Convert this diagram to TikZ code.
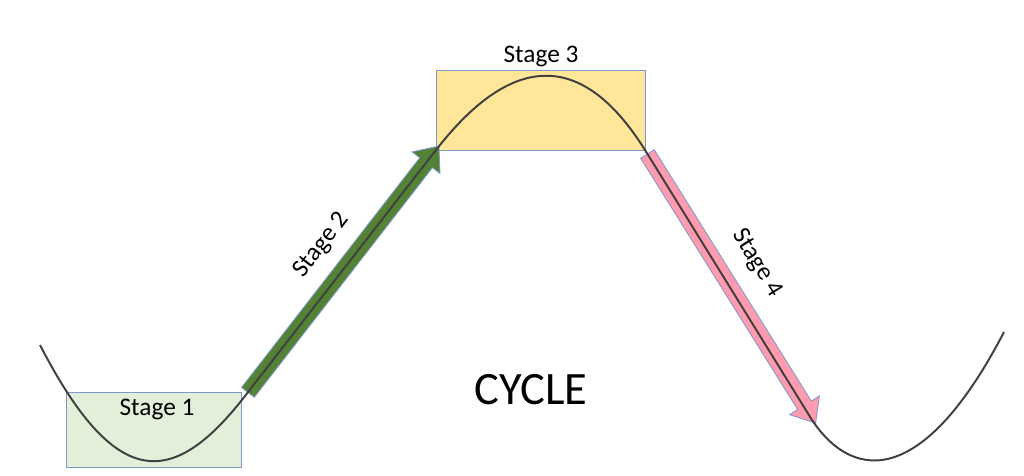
\documentclass[tikz,border=0pt]{standalone}
\usepackage{fontspec}
\setmainfont{Carlito}
\usetikzlibrary{shapes.arrows}

\definecolor{boxedge}{HTML}{7D98C9}
\definecolor{lightgreen}{HTML}{E2F0D9}
\definecolor{lightgold}{HTML}{FFE699}
\definecolor{darkgreen}{HTML}{548235}
\definecolor{lightpink}{HTML}{FF9BAE}
\definecolor{curvegray}{HTML}{404040}

\begin{document}
\begin{tikzpicture}[x=0.025cm, y=-0.025cm,
    stagebox/.style={draw=boxedge, line width=0.7pt, inner sep=0pt},
    stagearrow/.style={single arrow, draw=boxedge, line width=0.6pt, inner sep=0.19cm,
      single arrow head extend=0.24cm, single arrow tip angle=80},
    stagelabel/.style={font=\fontsize{18}{21}\selectfont},
    cycleline/.style={curvegray, line width=1.4pt}]
  \useasboundingbox (0,0) rectangle (1024,475);

  % stage boxes
  \node[stagebox, fill=lightgreen, minimum width=4.35cm, minimum height=1.875cm]
    (stageonebox) at (154,429.5) {};
  \node[stagebox, fill=lightgold, minimum width=5.2cm, minimum height=2cm]
    (stagethreebox) at (541,110) {};

  % block arrows
  \node[stagearrow, fill=darkgreen, minimum height=7.79cm, rotate=52.2]
    (risearrow) at (340.5,273) {};
  \node[stagearrow, fill=lightpink, minimum height=7.93cm, rotate=-58]
    (fallarrow) at (729,284.5) {};

  % the cycle curve
  \draw[cycleline] (40,345) .. controls (115,490) and (172,490) .. (245,396)
    -- (436,150) .. controls (513,51) and (583,51) .. (645,150)
    -- (812,420) .. controls (855,484) and (925,484) .. (1004,332);

  % labels
  \node[stagelabel] (stageone) at (157,409) {Stage 1};
  \node[stagelabel, rotate=52.2] (stagetwo) at (322,245) {Stage 2};
  \node[stagelabel] (stagethree) at (541,56) {Stage 3};
  \node[stagelabel, rotate=-58] (stagefour) at (757,263) {Stage 4};
  \node[font=\fontsize{33}{38}\selectfont] (cycle) at (531,390) {CYCLE};
\end{tikzpicture}
\end{document}
